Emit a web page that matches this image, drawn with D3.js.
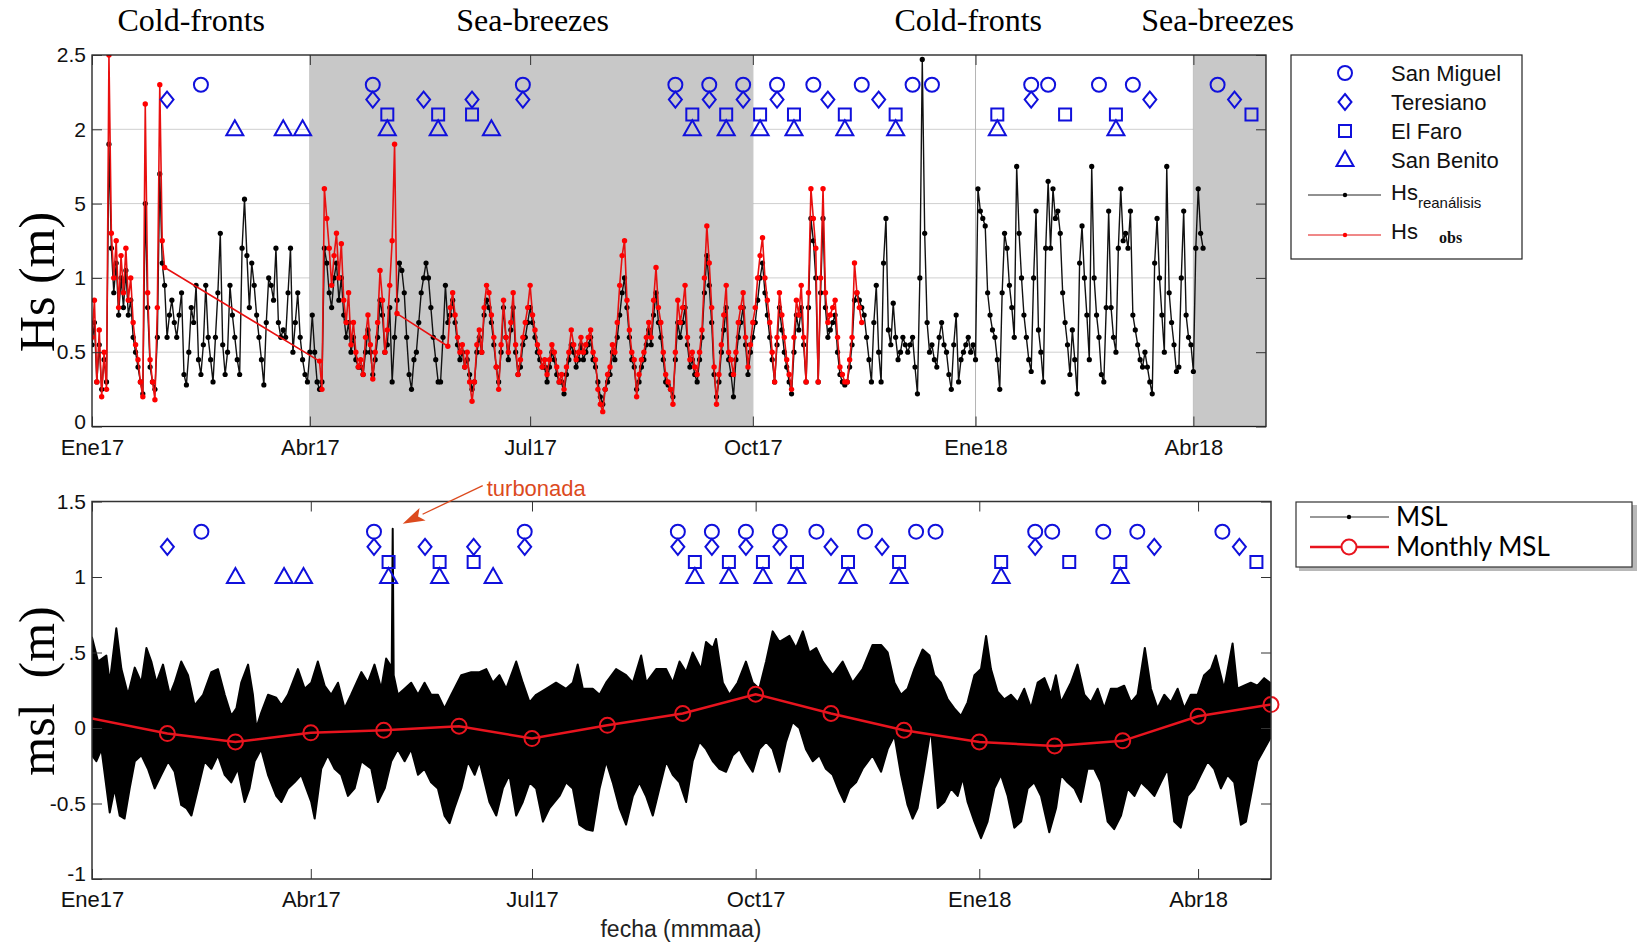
<!DOCTYPE html>
<html>
<head>
<meta charset="utf-8">
<script src="https://cdnjs.cloudflare.com/ajax/libs/d3/7.8.5/d3.min.js"></script>
<style>
body { margin: 0; background: #fff; }
svg { display: block; font-family: "Liberation Sans", Arial, sans-serif; }
</style>
</head>
<body>
<div id="chart"></div>
<script>
// ---------- values ----------
// daily Hs reanalysis (m), index = days since 2017-01-01
var hsRea = [
  0.55, 0.7, 0.3, 0.55, 0.25, 0.45, 0.3, 1.9, 1.2, 0.9, 1.1, 0.75, 1.0, 0.8, 1.05, 0.75, 0.85, 0.6, 0.5, 0.4,
  0.3, 0.22, 1.5, 0.8, 0.4, 0.3, 0.25, 0.6, 1.7, 1.1, 0.95,
  0.6, 0.75, 0.85, 0.7, 0.6, 0.75, 0.9, 0.35, 0.28, 0.5, 0.8, 0.7, 0.95, 0.45, 0.35, 0.55, 0.95, 0.6, 0.45, 0.3,
  0.6, 0.9, 1.3, 0.55, 0.35, 0.5, 0.95, 0.75, 0.6, 0.45, 0.35, 1.2, 1.53, 1.15, 0.8, 1.1, 0.95, 0.75, 0.6, 0.45,
  0.28, 0.7, 1.0, 0.95, 0.85, 1.2, 0.7, 0.6, 0.65, 0.6, 0.9, 1.2, 0.5, 0.7, 0.9, 0.6, 0.45, 0.35, 0.3, 0.5,
  0.75, 0.5, 0.3, 0.25,
  0.3, 1.2, 1.1, 0.9, 0.8, 1.0, 1.1, 0.85, 1.0, 0.75, 0.6, 0.7, 0.5, 0.6, 0.45, 0.4, 0.4, 0.35, 0.5, 0.65,
  0.5, 0.35, 0.45, 0.6, 0.85, 0.75, 0.5, 0.55, 0.8, 0.3, 0.6, 0.85, 1.1, 1.05, 0.9, 0.6, 0.35, 0.25, 0.45, 0.5,
  0.7, 0.9, 1.0, 1.1, 1.0, 0.8, 0.6, 0.45, 0.3, 0.3, 0.6, 0.95, 0.7,
  0.75, 0.85, 0.7, 0.55, 0.45, 0.5, 0.4, 0.45, 0.35, 0.25, 0.3, 0.5, 0.6, 0.5, 0.75, 0.85, 0.8, 0.7, 0.55, 0.4,
  0.3, 0.5, 0.8, 0.6, 0.45, 0.65, 0.8, 0.5, 0.35, 0.4, 0.55, 0.6, 0.7, 0.8, 0.7, 0.6, 0.5, 0.45, 0.4, 0.4,
  0.3, 0.4, 0.5, 0.45, 0.35, 0.3, 0.3, 0.22, 0.35, 0.45, 0.55, 0.5, 0.4, 0.45, 0.55, 0.45, 0.5, 0.55, 0.6, 0.45,
  0.4, 0.3, 0.2, 0.15, 0.25, 0.3, 0.35, 0.5, 0.45, 0.6, 0.75, 0.9, 1.0, 0.8, 0.6, 0.45, 0.4, 0.25, 0.3, 0.4,
  0.45, 0.55, 0.65, 0.55, 0.75, 0.9, 0.7, 0.6, 0.45, 0.3, 0.28, 0.25, 0.2, 0.45, 0.7, 0.6, 0.7, 0.8, 0.55, 0.4,
  0.45, 0.35, 0.3, 0.45, 0.6, 0.9, 1.15, 0.95, 0.7, 0.35, 0.2, 0.3, 0.5, 0.65, 0.8, 0.45, 0.35, 0.2, 0.45, 0.6,
  0.7, 0.8, 0.55, 0.35, 0.5, 0.6, 0.7, 0.85, 1.0, 1.1, 0.9, 0.75, 0.6, 0.45, 0.3, 0.55, 0.8, 0.65, 0.5, 0.4,
  0.3, 0.22, 0.5, 0.75, 0.65, 0.8, 0.55, 0.3, 0.8, 1.4, 1.25, 1.0, 0.3, 0.9, 1.4, 0.8, 0.6, 0.65, 0.7, 0.75,
  0.5, 0.35, 0.3, 0.28, 0.3, 0.4, 0.55, 0.85, 0.9, 0.85, 0.8,
  0.75, 0.6, 0.45, 0.3, 0.7, 0.95, 0.5, 0.3, 1.1, 1.4, 0.65, 0.55, 0.83, 0.6, 0.45, 0.5, 0.6, 0.55, 0.5, 0.55,
  0.6, 0.4, 0.22, 1.0, 2.47, 1.3, 0.7, 0.5, 0.55, 0.45, 0.4, 0.6, 0.7, 0.55, 0.5, 0.35, 0.25, 0.55, 0.75, 0.3,
  0.45, 0.5, 0.55, 0.6, 0.5, 0.55, 0.45, 1.6, 1.45, 1.4, 1.35, 0.9, 0.75, 0.65, 0.6, 0.45, 0.25, 0.9, 1.3, 1.2,
  0.95, 0.8, 0.6, 1.75, 1.3, 1.0, 0.75, 0.6, 0.45, 0.37, 1.0, 1.45, 0.65, 0.5, 0.3, 1.2, 1.65, 1.2, 1.6, 1.4,
  1.45, 1.3, 0.9, 0.7, 0.55, 0.35, 0.65, 0.45, 0.22, 1.1, 1.35, 1.0, 0.75, 0.45, 1.75, 1.0, 0.75, 0.6, 0.35, 0.3,
  0.8, 1.45, 0.8, 0.6, 0.5, 1.2, 1.6, 1.25, 1.3, 1.2, 1.45, 0.75, 0.65, 0.55, 0.45, 0.4, 0.5, 0.4, 0.3, 0.22,
  1.1, 1.4, 1.0, 0.75, 0.5, 1.75, 0.9, 0.7, 0.55, 0.37, 0.4, 1.0, 1.45, 0.75, 0.6, 0.55, 0.37, 1.2, 1.6, 1.3,
  1.2
];

// observed Hs (m), three daily stretches
var obsJanStart = 0;
var obsJan = [0.6, 0.85, 0.3, 0.65, 0.2, 0.5, 0.25, 2.5, 1.3, 1.0, 1.25, 0.8, 1.15, 0.9, 1.2, 0.85, 1.0, 0.7, 0.55, 0.45,
  0.3, 0.2, 2.17, 0.9, 0.45, 0.3, 0.18, 0.8, 2.3, 1.25, 1.07];
var obsAprStart = 94;
var obsApr = [0.44, 0.25, 1.6, 1.4, 1.2, 0.95, 1.15, 1.3, 1.0, 1.23, 0.85, 0.7, 0.9, 0.55, 0.7, 0.5, 0.4, 0.45, 0.35, 0.6,
  0.75, 0.55, 0.32, 0.5, 0.7, 1.05, 0.85, 0.5, 0.65, 0.95, 1.25, 1.9, 0.76];
var obsJunStart = 147;
var obsJun = [0.54, 0.8, 0.9, 0.75, 0.6, 0.5, 0.55, 0.4, 0.5, 0.3, 0.17, 0.3, 0.55, 0.65, 0.5, 0.8, 0.95, 0.9, 0.75, 0.6,
  0.4, 0.25, 0.55, 0.85, 0.6, 0.5, 0.7, 0.9, 0.55, 0.35, 0.45, 0.6, 0.7, 0.8, 0.95, 0.75, 0.65, 0.55, 0.5, 0.4,
  0.45, 0.35, 0.45, 0.55, 0.5, 0.4, 0.3, 0.35, 0.25, 0.4, 0.5, 0.65, 0.55, 0.45, 0.5, 0.6, 0.5, 0.55, 0.6, 0.65,
  0.5, 0.45, 0.25, 0.15, 0.1, 0.25, 0.35, 0.4, 0.55, 0.5, 0.7, 0.95, 1.15, 1.25, 0.85, 0.65, 0.5, 0.45, 0.2, 0.35,
  0.45, 0.5, 0.6, 0.7, 0.6, 0.85, 1.07, 0.8, 0.7, 0.5, 0.35, 0.3, 0.25, 0.15, 0.5, 0.85, 0.7, 0.8, 0.95, 0.6,
  0.45, 0.5, 0.4, 0.35, 0.5, 0.65, 1.0, 1.35, 1.1, 0.8, 0.4, 0.15, 0.35, 0.55, 0.75, 0.95, 0.5, 0.45, 0.35, 0.5,
  0.7, 0.8, 0.9, 0.6, 0.4, 0.55, 0.7, 0.8, 1.0, 1.15, 1.27, 1.0, 0.85, 0.7, 0.5, 0.3, 0.6, 0.9, 0.75, 0.6,
  0.45, 0.35, 0.25, 0.6, 0.85, 0.75, 0.95, 0.6, 0.3, 0.9, 1.6, 1.4, 1.2, 0.3, 1.0, 1.6, 0.9, 0.7, 0.75, 0.8,
  0.85, 0.6, 0.4, 0.35, 0.3, 0.3, 0.45, 0.6, 1.1, 0.9, 0.8, 0.7];

// MSL envelope (m): [day since 2017-01-01, value]
var mslUpper = [[0,0.6],[2.5,0.44],[5.9,0.48],[7.3,0.3],[10,0.66],[12.1,0.39],[14.8,0.22],[17.6,0.4],[20.3,0.3],[22.4,0.53],
  [24.4,0.44],[26.5,0.3],[29.2,0.42],[32,0.22],[34,0.3],[36.7,0.44],[39.5,0.35],[42.2,0.15],[45.7,0.22],[49.1,0.37],
  [51.8,0.39],[54.6,0.22],[57.3,0.08],[59.4,0.13],[61.4,0.3],[64.2,0.42],[66.2,0.22],[67.6,0.0],[69.6,0.1],[72.4,0.22],
  [75.8,0.2],[77.9,0.15],[80.6,0.22],[84.7,0.39],[87.5,0.26],[90.2,0.3],[92.9,0.44],[95.7,0.28],[98.4,0.22],[101.2,0.3],
  [103.9,0.13],[106.6,0.22],[110.8,0.37],[113.5,0.3],[116.2,0.42],[119,0.26],[121,0.46],[123.3,0.4],[123.7,1.32],[124.1,0.35],
  [125.8,0.22],[128.6,0.26],[131.3,0.3],[134.1,0.22],[136.8,0.3],[139.5,0.22],[142.3,0.22],[145,0.13],[147.8,0.22],[151.9,0.35],
  [156,0.37],[159.4,0.37],[162.2,0.39],[164.9,0.3],[167.6,0.35],[170.4,0.26],[174.5,0.44],[177.2,0.3],[180,0.17],[182.7,0.22],
  [186.8,0.26],[190.9,0.3],[195,0.26],[197.8,0.3],[199.8,0.42],[201.9,0.26],[206,0.26],[208.8,0.22],[211.5,0.3],[215.6,0.39],
  [219.7,0.35],[222.5,0.3],[225.9,0.48],[228,0.3],[232.1,0.39],[236.2,0.39],[238.9,0.3],[241.7,0.44],[244.4,0.37],[247.1,0.5],
  [250.6,0.39],[252.6,0.57],[255.4,0.53],[256.7,0.59],[259.5,0.3],[262.2,0.22],[265.6,0.3],[269,0.44],[271.8,0.3],[274.5,0.26],
  [277.3,0.44],[280,0.64],[282.8,0.57],[286.9,0.61],[289.6,0.53],[292.4,0.64],[295.1,0.5],[297.9,0.53],[300.6,0.44],[304.7,0.35],
  [308.8,0.44],[312.9,0.3],[317,0.39],[321.1,0.55],[324.6,0.55],[327.3,0.5],[330.1,0.3],[332.8,0.22],[335.5,0.26],[338.3,0.39],
  [341.7,0.52],[344.5,0.48],[346.5,0.35],[349.2,0.3],[352,0.19],[354.7,0.13],[357.5,0.08],[360.2,0.17],[363,0.35],[365.7,0.39],
  [367.8,0.61],[369.8,0.39],[372.5,0.24],[375.3,0.19],[378,0.22],[380.8,0.17],[383.5,0.26],[386.3,0.13],[389,0.3],[391.8,0.33],
  [394.5,0.22],[396.5,0.35],[398.6,0.17],[402.7,0.3],[405.4,0.42],[408.2,0.22],[410.9,0.17],[413.7,0.26],[416.4,0.13],[419.1,0.26],
  [421.9,0.26],[424.6,0.28],[427.4,0.17],[430.1,0.22],[433.1,0.53],[435.6,0.26],[438.3,0.13],[441.1,0.22],[443.8,0.17],[446.6,0.26],
  [449.3,0.13],[452,0.22],[454.8,0.22],[457.5,0.35],[460.3,0.39],[462.3,0.48],[465.7,0.26],[469.2,0.56],[471.2,0.26],[473.9,0.28],
  [476.7,0.3],[479.4,0.28],[482.2,0.33],[484.6,0.3]];
var mslLower = [[0,-0.18],[1.8,-0.22],[3.9,-0.14],[7.3,-0.56],[9.3,-0.4],[11.4,-0.58],[13.4,-0.6],[15.5,-0.4],[17.6,-0.22],[20.3,-0.18],
  [23,-0.27],[25.8,-0.4],[28.5,-0.31],[31.3,-0.22],[34,-0.29],[36.7,-0.51],[38.8,-0.53],[40.9,-0.58],[43.6,-0.4],[46.3,-0.22],
  [49.1,-0.27],[51.8,-0.18],[54.6,-0.31],[57.3,-0.36],[60,-0.27],[62.8,-0.49],[64.8,-0.4],[66.9,-0.22],[69.6,-0.14],[72.4,-0.31],
  [75.8,-0.45],[77.9,-0.49],[80.6,-0.4],[83.3,-0.36],[86.1,-0.31],[90.2,-0.49],[91.6,-0.6],[94.3,-0.27],[97,-0.18],[99.8,-0.27],
  [102.5,-0.31],[105.3,-0.45],[108,-0.4],[110.8,-0.22],[114.9,-0.27],[117.6,-0.49],[120.4,-0.4],[123.1,-0.22],[125.8,-0.14],[128.6,-0.22],
  [131.3,-0.14],[134.1,-0.31],[136.8,-0.27],[139.5,-0.36],[142.3,-0.4],[145,-0.58],[147.1,-0.63],[149.1,-0.53],[151.9,-0.4],[154.6,-0.22],
  [157.4,-0.31],[159.4,-0.22],[163.5,-0.49],[166.3,-0.58],[169,-0.4],[171.7,-0.31],[174.5,-0.58],[177.2,-0.49],[180,-0.36],[182.7,-0.4],
  [185.5,-0.62],[188.2,-0.53],[192.3,-0.45],[195,-0.36],[197.8,-0.4],[200.5,-0.64],[203.3,-0.67],[206,-0.68],[208.8,-0.4],[211.5,-0.22],
  [214.2,-0.36],[217,-0.53],[219.7,-0.64],[222.5,-0.45],[225.2,-0.36],[227.9,-0.45],[230.7,-0.58],[233.4,-0.4],[236.2,-0.22],[238.9,-0.31],
  [241.7,-0.36],[244.4,-0.49],[247.1,-0.22],[249.9,-0.09],[252.6,-0.14],[255.4,-0.22],[258.1,-0.27],[260.8,-0.29],[263.6,-0.18],[266.3,-0.14],
  [269,-0.22],[271.8,-0.29],[274.5,-0.14],[277.3,-0.09],[280,-0.14],[282.8,-0.29],[285.5,-0.09],[288.2,0.04],[291,0],[293.7,-0.14],
  [296.5,-0.22],[299.2,-0.18],[301.9,-0.27],[304.7,-0.31],[307.4,-0.42],[309.5,-0.49],[311.6,-0.4],[314.3,-0.36],[317,-0.27],[321.1,-0.18],
  [324.6,-0.29],[327.3,-0.14],[330.1,-0.05],[332.8,-0.31],[335.5,-0.51],[337.6,-0.6],[339.6,-0.53],[342.4,-0.27],[345.1,0],[347.9,-0.53],
  [350.6,-0.49],[353.4,-0.4],[356.1,-0.45],[358.2,-0.33],[360.2,-0.49],[363,-0.62],[365.7,-0.73],[368.4,-0.62],[371.2,-0.4],[373.9,-0.31],
  [376.7,-0.45],[379.4,-0.66],[382.2,-0.62],[384.9,-0.4],[387.6,-0.36],[390.4,-0.45],[393.8,-0.69],[396.6,-0.53],[398.6,-0.31],[401.3,-0.36],
  [404.1,-0.4],[406.8,-0.49],[409.5,-0.27],[412.3,-0.27],[415,-0.36],[417.8,-0.62],[420.5,-0.67],[423.3,-0.58],[426,-0.4],[428.8,-0.45],
  [431.5,-0.36],[434.2,-0.4],[437,-0.45],[439.7,-0.36],[442.5,-0.27],[445.2,-0.62],[447.9,-0.66],[450.7,-0.45],[453.4,-0.4],[456.1,-0.31],
  [458.9,-0.22],[461.6,-0.27],[464.4,-0.4],[467.1,-0.31],[469.9,-0.36],[472.6,-0.64],[474.7,-0.62],[476.7,-0.45],[479.4,-0.22],[482.2,-0.14],
  [484.6,-0.07]];

// monthly mean MSL (m)
var monthlyDates = ["2016-12-01", "2017-02-01", "2017-03-01", "2017-04-01", "2017-05-01", "2017-06-01", "2017-07-01",
  "2017-08-01", "2017-09-01", "2017-10-01", "2017-11-01", "2017-12-01", "2018-01-01", "2018-02-01", "2018-03-01",
  "2018-04-01", "2018-05-01"];
var monthlyMsl = [0.163, -0.037, -0.092, -0.032, -0.015, 0.012, -0.07, 0.018, 0.096, 0.224, 0.096, -0.015, -0.092,
  -0.119, -0.085, 0.078, 0.155];

// event dates per station
var sanMiguel = ["2017-02-15", "2017-04-27", "2017-06-28", "2017-08-30", "2017-09-13", "2017-09-27", "2017-10-11",
  "2017-10-26", "2017-11-15", "2017-12-06", "2017-12-14", "2018-01-24", "2018-01-31", "2018-02-21", "2018-03-07", "2018-04-11"];
var teresiano = ["2017-02-01", "2017-04-27", "2017-05-18", "2017-06-07", "2017-06-28", "2017-08-30", "2017-09-13",
  "2017-09-27", "2017-10-11", "2017-11-01", "2017-11-22", "2018-01-24", "2018-03-14", "2018-04-18"];
var elFaro = ["2017-05-03", "2017-05-24", "2017-06-07", "2017-09-06", "2017-09-20", "2017-10-04", "2017-10-18",
  "2017-11-08", "2017-11-29", "2018-01-10", "2018-02-07", "2018-02-28", "2018-04-25"];
var sanBenito = ["2017-03-01", "2017-03-21", "2017-03-29", "2017-05-03", "2017-05-24", "2017-06-15", "2017-09-06",
  "2017-09-20", "2017-10-04", "2017-10-18", "2017-11-08", "2017-11-29", "2018-01-10", "2018-02-28"];
var stationNames = ["San Miguel", "Teresiano", "El Faro", "San Benito"];
var stationKinds = ["circle", "diamond", "square", "triangle"];
var hsLevels = [2.3, 2.2, 2.1, 2.0];
var mslLevels = [1.3, 1.2, 1.1, 1.0];

var shaded = [["2017-04-01", "2017-10-01"], ["2018-04-01", "2018-05-01"]];
var seasonLabels = ["Cold-fronts", "Sea-breezes", "Cold-fronts", "Sea-breezes"];
var seasonDates = ["2017-02-11", "2017-07-02", "2017-12-29", "2018-04-11"];

var tickDates = ["2017-01-01", "2017-04-01", "2017-07-01", "2017-10-01", "2018-01-01", "2018-04-01"];
var tickLabels = ["Ene17", "Abr17", "Jul17", "Oct17", "Ene18", "Abr18"];
var hsTicks = [0, 0.5, 1, 1.5, 2, 2.5];
var hsTickLabels = ["0", "0.5", "1", "5", "2", "2.5"];
var mslTicks = [-1, -0.5, 0, 0.5, 1, 1.5];
var mslTickLabels = ["-1", "-0.5", "0", ".5", "1", "1.5"];

// ---------- drawing ----------
var parse = d3.utcParse("%Y-%m-%d");
var t0 = Date.UTC(2017, 0, 1);
function dayDate(d) { return new Date(t0 + d * 864e5); }
var blue = "#1010dc";

var svg = d3.select("#chart").append("svg").attr("width", 1637).attr("height", 946);

function markerPath(kind) {
    if (kind == "circle") return "M-7,0A7,7 0 1,0 7,0A7,7 0 1,0 -7,0Z";
    if (kind == "diamond") return "M0,-8L6.5,0L0,8L-6.5,0Z";
    if (kind == "square") return "M-6,-6H6V6H-6Z";
    return "M0,-9L8.5,6H-8.5Z";
}

function drawEvents(g, x, y, levels) {
    [sanMiguel, teresiano, elFaro, sanBenito].forEach(function (dates, i) {
        g.append("g").selectAll("path")
            .data(dates)
            .enter().append("path")
            .attr("d", markerPath(stationKinds[i]))
            .attr("transform", function (d) { return "translate(" + x(parse(d)) + "," + y(levels[i]) + ")"; })
            .attr("fill", "none").attr("stroke", blue).attr("stroke-width", 2);
    });
}

function drawXAxis(g, x, box, pad) {
    var dates = tickDates.map(parse);
    var ax = g.append("g").attr("transform", "translate(0," + box.bottom + ")")
        .call(d3.axisBottom(x).tickValues(dates).tickFormat(function (d, i) { return tickLabels[i]; })
            .tickSize(-10).tickPadding(pad));
    ax.select(".domain").remove();
    ax.selectAll("line").attr("stroke", "#333");
    ax.selectAll("text").attr("font-size", 22).attr("fill", "#111").attr("font-family", "Liberation Sans, Arial");
    var top = g.append("g").attr("transform", "translate(0," + box.top + ")")
        .call(d3.axisTop(x).tickValues(dates).tickFormat("").tickSize(-10));
    top.select(".domain").remove();
    top.selectAll("line").attr("stroke", "#333");
}

function drawYAxis(g, y, box, ticks, labels) {
    var ax = g.append("g").attr("transform", "translate(" + box.left + ",0)")
        .call(d3.axisLeft(y).tickValues(ticks).tickFormat(function (d, i) { return labels[i]; })
            .tickSize(-10).tickPadding(6));
    ax.select(".domain").remove();
    ax.selectAll("line").attr("stroke", "#333");
    ax.selectAll("text").attr("font-size", 21).attr("fill", "#111").attr("font-family", "Liberation Sans, Arial")
        .attr("y", function (d, i) { return i == 0 ? -5 : 0; });
    var r = g.append("g").attr("transform", "translate(" + box.right + ",0)")
        .call(d3.axisRight(y).tickValues(ticks).tickFormat("").tickSize(-10));
    r.select(".domain").remove();
    r.selectAll("line").attr("stroke", "#333");
}

function drawTop() {
    var box = { left: 92, right: 1266, top: 55, bottom: 426.5 };
    var x = d3.scaleUtc().domain([parse("2017-01-01"), parse("2018-05-01")]).range([box.left, box.right]);
    var y = d3.scaleLinear().domain([0, 2.5]).range([box.bottom, box.top]);
    var g = svg.append("g");

    g.append("clipPath").attr("id", "clipTop").append("rect")
        .attr("x", box.left).attr("y", box.top).attr("width", box.right - box.left).attr("height", box.bottom - box.top);

    // grid
    g.append("g").selectAll("line").data(hsTicks.slice(1, 5)).enter().append("line")
        .attr("x1", box.left).attr("x2", box.right)
        .attr("y1", function (d) { return y(d); }).attr("y2", function (d) { return y(d); })
        .attr("stroke", "#cfcfcf").attr("stroke-width", 1);
    g.append("g").selectAll("line").data(tickDates.slice(1)).enter().append("line")
        .attr("x1", function (d) { return x(parse(d)); }).attr("x2", function (d) { return x(parse(d)); })
        .attr("y1", box.top).attr("y2", box.bottom)
        .attr("stroke", "#b4b4b4").attr("stroke-width", 1);

    // shaded sea-breeze seasons
    g.append("g").selectAll("rect").data(shaded).enter().append("rect")
        .attr("x", function (d) { return x(parse(d[0])); })
        .attr("width", function (d) { return x(parse(d[1])) - x(parse(d[0])); })
        .attr("y", box.top).attr("height", box.bottom - box.top)
        .attr("fill", "#c8c8c8");

    var plot = g.append("g").attr("clip-path", "url(#clipTop)");
    var line = d3.line().x(function (d) { return x(d.date); }).y(function (d) { return y(d.value); });

    var rea = hsRea.map(function (v, i) { return { date: dayDate(i), value: v }; });
    plot.append("path").datum(rea).attr("d", line).attr("fill", "none").attr("stroke", "#111").attr("stroke-width", 1.4);
    plot.append("g").selectAll("circle").data(rea).enter().append("circle")
        .attr("cx", function (d) { return x(d.date); }).attr("cy", function (d) { return y(d.value); })
        .attr("r", 2.6).attr("fill", "#000");

    var obs = [];
    [[obsJanStart, obsJan], [obsAprStart, obsApr], [obsJunStart, obsJun]].forEach(function (s) {
        s[1].forEach(function (v, i) { obs.push({ date: dayDate(s[0] + i), value: v }); });
    });
    plot.append("path").datum(obs).attr("d", line).attr("fill", "none").attr("stroke", "#e81010").attr("stroke-width", 1.6);
    plot.append("g").selectAll("circle").data(obs).enter().append("circle")
        .attr("cx", function (d) { return x(d.date); }).attr("cy", function (d) { return y(d.value); })
        .attr("r", 2.7).attr("fill", "#ff0000");

    drawEvents(g, x, y, hsLevels);

    g.append("rect").attr("x", box.left).attr("y", box.top)
        .attr("width", box.right - box.left).attr("height", box.bottom - box.top)
        .attr("fill", "none").attr("stroke", "#1a1a1a").attr("stroke-width", 1.3);
    drawXAxis(g, x, box, 13);
    drawYAxis(g, y, box, hsTicks, hsTickLabels);

    // season titles
    g.append("g").selectAll("text").data(seasonLabels).enter().append("text")
        .attr("x", function (d, i) { return x(parse(seasonDates[i])); }).attr("y", 31)
        .attr("text-anchor", "middle").attr("font-family", "Liberation Serif, Times New Roman, serif")
        .attr("font-size", 32).attr("fill", "#000")
        .text(function (d) { return d; });

    g.append("text").attr("transform", "translate(54,282) rotate(-90)")
        .attr("text-anchor", "middle").attr("font-family", "Liberation Serif, Times New Roman, serif")
        .attr("font-size", 50).text("Hs (m)");

    // legend
    var lg = g.append("g");
    lg.append("rect").attr("x", 1291).attr("y", 55).attr("width", 231).attr("height", 204)
        .attr("fill", "#fff").attr("stroke", "#222").attr("stroke-width", 1.2);
    var rows = [73, 102, 131, 160];
    stationNames.forEach(function (name, i) {
        lg.append("path").attr("d", markerPath(stationKinds[i]))
            .attr("transform", "translate(1345," + rows[i] + ")")
            .attr("fill", "none").attr("stroke", blue).attr("stroke-width", 2);
        lg.append("text").attr("x", 1391).attr("y", rows[i]).attr("dy", "0.35em")
            .attr("font-size", 22).attr("fill", "#111").text(name);
    });
    lg.append("line").attr("x1", 1308).attr("x2", 1381).attr("y1", 195).attr("y2", 195).attr("stroke", "#222");
    lg.append("circle").attr("cx", 1345).attr("cy", 195).attr("r", 2.2).attr("fill", "#000");
    var t1 = lg.append("text").attr("x", 1391).attr("y", 200).attr("font-size", 22).attr("fill", "#111");
    t1.append("tspan").text("Hs");
    t1.append("tspan").attr("dy", 8).attr("font-size", 15).text("reanálisis");
    lg.append("line").attr("x1", 1308).attr("x2", 1381).attr("y1", 235).attr("y2", 235).attr("stroke", "#e01010");
    lg.append("circle").attr("cx", 1345).attr("cy", 235).attr("r", 2.2).attr("fill", "#ff0000");
    lg.append("text").attr("x", 1391).attr("y", 239).attr("font-size", 22).attr("fill", "#111").text("Hs");
    lg.append("text").attr("x", 1439).attr("y", 243).attr("font-size", 16).attr("font-weight", "bold")
        .attr("font-family", "Liberation Serif, Times New Roman, serif").attr("fill", "#111").text("obs");
}

function drawBottom() {
    var box = { left: 92, right: 1271, top: 501.5, bottom: 879 };
    var x = d3.scaleUtc().domain([parse("2017-01-01"), parse("2018-05-01")]).range([box.left, box.right]);
    var y = d3.scaleLinear().domain([-1, 1.5]).range([box.bottom, box.top]);
    var g = svg.append("g");

    g.append("clipPath").attr("id", "clipBot").append("rect")
        .attr("x", box.left).attr("y", box.top).attr("width", box.right - box.left).attr("height", box.bottom - box.top);
    var plot = g.append("g").attr("clip-path", "url(#clipBot)");

    // MSL band: upper envelope forward, lower envelope back
    var ring = mslUpper.concat(mslLower.slice().reverse());
    var band = d3.line().x(function (d) { return x(dayDate(d[0])); }).y(function (d) { return y(d[1]); });
    plot.append("path").attr("d", band(ring) + "Z")
        .attr("fill", "#000").attr("stroke", "#000").attr("stroke-width", 2).attr("stroke-linejoin", "round");

    var monthly = monthlyDates.map(function (d, i) { return { date: parse(d), value: monthlyMsl[i] }; });
    var line = d3.line().x(function (d) { return x(d.date); }).y(function (d) { return y(d.value); });
    plot.append("path").datum(monthly).attr("d", line).attr("fill", "none").attr("stroke", "#e8141e").attr("stroke-width", 2.5);
    var dom = x.domain();
    g.append("g").selectAll("circle").data(monthly.filter(function (d) { return d.date >= dom[0] && d.date <= dom[1]; }))
        .enter().append("circle")
        .attr("cx", function (d) { return x(d.date); }).attr("cy", function (d) { return y(d.value); })
        .attr("r", 7.5).attr("fill", "none").attr("stroke", "#e8141e").attr("stroke-width", 2);

    drawEvents(g, x, y, mslLevels);

    g.append("rect").attr("x", box.left).attr("y", box.top)
        .attr("width", box.right - box.left).attr("height", box.bottom - box.top)
        .attr("fill", "none").attr("stroke", "#333").attr("stroke-width", 1.5);
    drawXAxis(g, x, box, 12.5);
    drawYAxis(g, y, box, mslTicks, mslTickLabels);

    g.append("text").attr("transform", "translate(54,691) rotate(-90)")
        .attr("text-anchor", "middle").attr("font-family", "Liberation Serif, Times New Roman, serif")
        .attr("font-size", 50).style("white-space", "pre").text("msl  (m)");

    g.append("text").attr("x", 681).attr("y", 937).attr("text-anchor", "middle")
        .attr("font-size", 23).attr("fill", "#222").text("fecha (mmmaa)");

    // turbonada annotation pointing at the spike
    var peak = mslUpper.reduce(function (a, b) { return b[1] > a[1] ? b : a; });
    var tip = [x(dayDate(peak[0])) + 10, y(peak[1]) - 5];
    var tail = [tip[0] + 80, tip[1] - 38];
    var dx = tip[0] - tail[0], dy = tip[1] - tail[1], len = Math.sqrt(dx * dx + dy * dy);
    var ux = dx / len, uy = dy / len;
    var bx = tip[0] - ux * 22, by = tip[1] - uy * 22;
    var red = "#dc4a1e";
    g.append("line").attr("x1", tail[0]).attr("y1", tail[1]).attr("x2", bx).attr("y2", by)
        .attr("stroke", red).attr("stroke-width", 1.3);
    g.append("path").attr("d", "M" + tip[0] + "," + tip[1] +
            "L" + (bx + uy * 7) + "," + (by - ux * 7) +
            "L" + (bx + ux * 5) + "," + (by + uy * 5) +
            "L" + (bx - uy * 7) + "," + (by + ux * 7) + "Z")
        .attr("fill", red);
    g.append("text").attr("x", tail[0] + 4).attr("y", tail[1] + 10)
        .attr("font-size", 22).attr("fill", red).text("turbonada");

    // legend
    var lg = g.append("g");
    lg.append("rect").attr("x", 1299).attr("y", 505).attr("width", 338).attr("height", 66).attr("fill", "#b8b8b8");
    lg.append("rect").attr("x", 1296).attr("y", 502).attr("width", 336).attr("height", 65)
        .attr("fill", "#fff").attr("stroke", "#333").attr("stroke-width", 1.2);
    lg.append("line").attr("x1", 1310).attr("x2", 1389).attr("y1", 517).attr("y2", 517).attr("stroke", "#333").attr("stroke-width", 1.2);
    lg.append("circle").attr("cx", 1349).attr("cy", 517).attr("r", 2.2).attr("fill", "#000");
    lg.append("line").attr("x1", 1310).attr("x2", 1389).attr("y1", 547).attr("y2", 547).attr("stroke", "#e8141e").attr("stroke-width", 2.5);
    lg.append("circle").attr("cx", 1349).attr("cy", 547).attr("r", 7.5).attr("fill", "#fff").attr("stroke", "#e8141e").attr("stroke-width", 2);
    lg.append("text").attr("x", 1396).attr("y", 517).attr("dy", "0.35em").attr("font-family", "Lato, Open Sans, sans-serif")
        .attr("font-size", 26).attr("fill", "#000").text("MSL");
    lg.append("text").attr("x", 1396).attr("y", 547).attr("dy", "0.35em").attr("font-family", "Lato, Open Sans, sans-serif")
        .attr("font-size", 26).attr("fill", "#000").text("Monthly MSL");
}

drawTop();
drawBottom();
</script>
</body>
</html>
